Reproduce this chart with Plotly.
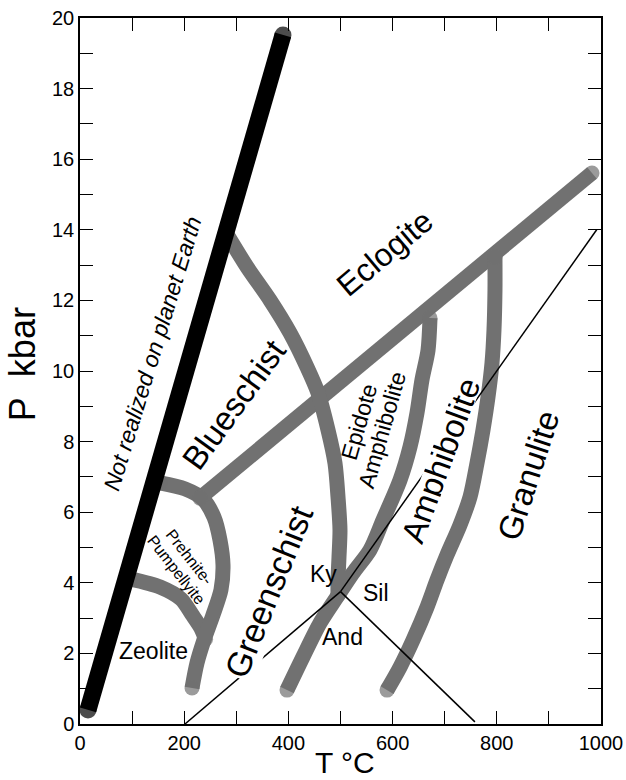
import plotly.graph_objects as go

# ---- axis ticks -----------------------------------------------------------
t_ticks = [0, 100, 200, 300, 400, 500, 600, 700, 800, 900, 1000]
t_tick_text = ["0", "", "200", "", "400", "", "600", "", "800", "", "1000"]
p_ticks = list(range(0, 21))
p_tick_text = [str(v) if v % 2 == 0 else "" for v in p_ticks]

# ---- limit of terrestrial P-T conditions (heavy black band) ---------------
earth_T = [15.4, 389.6]
earth_P = [0.40, 19.52]

# ---- facies boundaries (T in deg C, P in kbar) ----------------------------
# zeolite / prehnite-pumpellyite
zeo_T = [96.0, 153.6, 193.9, 215.0, 232.0, 241.0]
zeo_P = [4.11, 3.88, 3.54, 3.10, 2.72, 2.40]

# prehnite-pumpellyite outer arc
pp_T = [153.6, 201.5, 236.1, 257.2, 268.7, 274.5, 270.6, 255.3, 238.0, 224.6, 215.0]
pp_P = [6.83, 6.66, 6.37, 5.86, 5.21, 4.50, 3.80, 3.09, 2.38, 1.73, 1.02]

# blueschist - greenschist / eclogite (straight band)
ecl_T = [230.3, 982.7]
ecl_P = [6.40, 15.61]

# blueschist / greenschist - epidote amphibolite arc
blue_T = [284.1, 320.5, 364.7, 403.1, 435.7, 456.8, 476.0, 489.4, 495.2, 499.0, 497.1, 495.2, 495.2]
blue_P = [13.82, 12.95, 12.01, 11.08, 10.11, 9.38, 8.33, 7.39, 6.43, 5.50, 4.73, 4.08, 3.65]

# greenschist / epidote amphibolite - amphibolite
ea_T = [397.3, 428.0, 460.7, 493.3, 524.0, 556.6, 581.6, 614.2, 633.4, 646.8, 656.4, 668.0, 671.8]
ea_P = [0.96, 1.90, 2.86, 3.60, 4.28, 4.93, 5.78, 6.91, 7.85, 8.81, 9.75, 10.59, 11.50]

# amphibolite / granulite
gr_T = [589.3, 614.2, 639.2, 666.0, 685.2, 704.4, 729.4, 748.6, 762.0, 773.5, 783.1, 790.8, 794.6, 796.5, 796.5]
gr_P = [0.96, 1.61, 2.38, 3.31, 4.08, 4.79, 5.64, 6.43, 7.39, 8.33, 9.26, 10.23, 11.16, 12.29, 13.23]

# Al2SiO5 triple point and its three reaction lines
triple_T, triple_P = 500.0, 3.75
ky_and_T = [201.5, triple_T]
ky_and_P = [0.0, triple_P]
and_sil_T = [triple_T, 758.0]
and_sil_P = [triple_P, 0.06]
ky_sil_T = [triple_T, 991.7]
ky_sil_P = [triple_P, 14.0]

# ---- field labels: text, T, P, angle, size, white backing box height ------
label_text = ["<i>Not realized on planet Earth</i>", "Blueschist", "Eclogite",
              "Greenschist", "Amphibolite", "Granulite", "Epidote", "Amphibolite",
              "Prehnite-", "Pumpellyite", "Zeolite", "Ky", "Sil", "And"]
label_T = [140, 296, 585, 362, 692, 860, 535.5, 579.7, 211, 186, 141, 468, 568, 503]
label_P = [10.5, 9.04, 13.34, 3.74, 7.45, 7.05, 8.56, 8.33, 4.73, 4.36, 2.07, 4.25, 3.71, 2.46]
label_angle = [-73, -54, -40, -68, -70, -72, -74, -74, 52, 52, 0, 0, 0, 0]
label_size = [23, 33, 32, 34, 33, 33, 23, 23, 16, 16, 23, 23, 23, 23]
label_box = [None, None, None, "auto", 24, None, None, None,
             None, None, None, None, None, None]

FONT = "Liberation Sans, Arial, Helvetica, sans-serif"
BAND = "#717171"
BAND_W = 15
EARTH_W = 17

fig = go.Figure()


def band(T, P, color, width):
    n = len(T)
    fig.add_trace(go.Scatter(
        x=T, y=P, mode="lines+markers",
        line=dict(color=color, width=width, shape="spline", smoothing=0.8),
        marker=dict(color=color, size=[width] + [0] * (n - 2) + [width],
                    line=dict(width=0)),
        hoverinfo="skip", showlegend=False))


for T, P in [(zeo_T, zeo_P), (pp_T, pp_P), (ecl_T, ecl_P),
             (blue_T, blue_P), (ea_T, ea_P), (gr_T, gr_P)]:
    band(T, P, BAND, BAND_W)

band(earth_T, earth_P, "black", EARTH_W)

for T, P in [(ky_and_T, ky_and_P), (and_sil_T, and_sil_P), (ky_sil_T, ky_sil_P)]:
    fig.add_trace(go.Scatter(x=T, y=P, mode="lines",
                             line=dict(color="black", width=1.5),
                             hoverinfo="skip", showlegend=False))

for txt, t, p, ang, sz, box in zip(label_text, label_T, label_P,
                                   label_angle, label_size, label_box):
    extra = {}
    if box is not None:
        extra["bgcolor"] = "white"
        if box != "auto":
            extra["height"] = box
    fig.add_annotation(x=t, y=p, xref="x", yref="y", text=txt, showarrow=False,
                       textangle=ang, xanchor="center", yanchor="middle",
                       font=dict(family=FONT, size=sz, color="black"),
                       borderpad=0, **extra)

# axis titles
fig.add_annotation(x=-0.109, y=0.51, xref="paper", yref="paper",
                   text="P\u00a0\u00a0kbar", showarrow=False, textangle=-90,
                   xanchor="center", yanchor="middle",
                   font=dict(family=FONT, size=36, color="black"))
fig.add_annotation(x=0.508, y=-56 / 706, xref="paper", yref="paper",
                   text="T \u00b0C", showarrow=False,
                   xanchor="center", yanchor="bottom", borderpad=0,
                   font=dict(family=FONT, size=30, color="black"))

axis_common = dict(showgrid=False, zeroline=False, showline=True,
                   linecolor="black", linewidth=1.5, mirror="ticks",
                   ticks="inside", ticklen=13, tickwidth=1.3, tickcolor="black",
                   automargin=False,
                   tickfont=dict(family=FONT, size=20, color="black"))

fig.update_xaxes(range=[0, 1000], tickmode="array", tickvals=t_ticks,
                 ticktext=t_tick_text, **axis_common)
fig.update_yaxes(range=[0, 20], tickmode="array", tickvals=p_ticks,
                 ticktext=p_tick_text, **axis_common)

fig.update_layout(width=626, height=780,
                  margin=dict(l=80, r=25, t=18, b=56, pad=0, autoexpand=False),
                  paper_bgcolor="white", plot_bgcolor="white",
                  showlegend=False)

fig.write_html("out.html")
